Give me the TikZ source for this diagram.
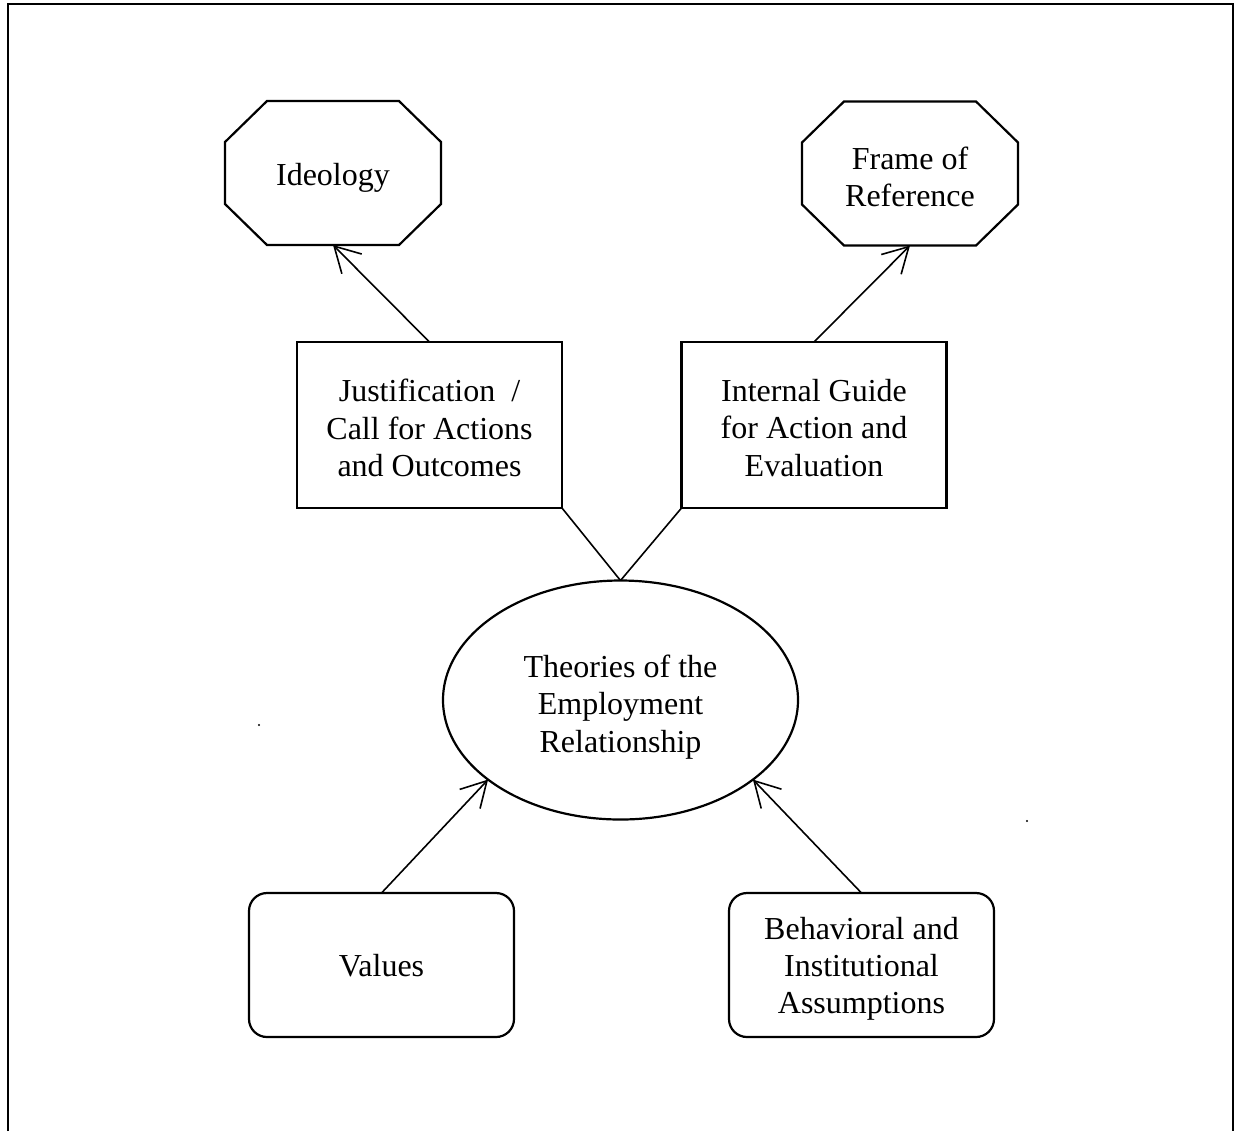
\documentclass[tikz,border=0pt]{standalone}
\usepackage{fontspec}
\setmainfont{Liberation Serif}
\usetikzlibrary{arrows.meta,shapes.geometric}
\tikzset{
  shapeline/.style={line width=1.1pt, line join=miter},
  txt/.style={font=\fontsize{16}{18.6}\selectfont, align=center, inner sep=0pt, outer sep=0pt},
  octo/.style={rectangle, draw=none, inner sep=0pt, outer sep=0pt, minimum width=108pt, minimum height=72pt},
  plainbox/.style={rectangle, draw, shapeline, inner sep=0pt, outer sep=0pt, minimum width=132.5pt, minimum height=83pt},
  roundbox/.style={rectangle, draw, shapeline, inner sep=0pt, outer sep=0pt, rounded corners=9pt, minimum width=132.5pt, minimum height=72pt},
  oval/.style={ellipse, draw, shapeline, inner sep=0pt, outer sep=0pt, minimum width=177.5pt, minimum height=119.5pt},
  conn/.style={line width=0.8pt},
  arr/.style={conn, -{Straight Barb[length=12.5pt, width=14pt, line width=0.8pt]}}
}
\newcommand\drawocto[1]{%
  \draw[shapeline] ([xshift=21pt]#1.north west) -- ([xshift=-21pt]#1.north east)
    -- ([yshift=-20.5pt]#1.north east) -- ([yshift=20.5pt]#1.south east)
    -- ([xshift=-21pt]#1.south east) -- ([xshift=21pt]#1.south west)
    -- ([yshift=20.5pt]#1.south west) -- ([yshift=-20.5pt]#1.north west) -- cycle;}
\begin{document}
\begin{tikzpicture}[x=0.5pt, y=-0.5pt]
\useasboundingbox (0,0) rectangle (1235,1131);
% outer frame (open at bottom)
\coordinate (fbl) at (8,1131);
\coordinate (ftl) at (8,4);
\coordinate (ftr) at (1233,4);
\coordinate (fbr) at (1233,1131);
\draw[line width=1.1pt] (fbl) -- (ftl) -- (ftr) -- (fbr);

% shapes
\node[octo] (ideo) at (333,173) {};
\drawocto{ideo}
\node[octo] (frame) at (910,173.5) {};
\drawocto{frame}
\node[plainbox] (just) at (429.5,425) {};
\node[plainbox] (guide) at (814,425) {};
\node[oval] (theo) at (620.5,700) {};
\node[roundbox] (values) at (381.5,965) {};
\node[roundbox] (beh) at (861.5,965) {};

% texts
\node[txt] (ideotxt) at ([yshift=-2.5pt]ideo.center) {Ideology};
\node[txt] (frametxt) at ([yshift=-1.5pt]frame.center) {Frame of\\Reference};
\node[txt] (justtxt) at ([yshift=-1.5pt]just.center) {Justification\ \ /\\Call for Actions\\and Outcomes};
\node[txt] (guidetxt) at ([yshift=-1.5pt]guide.center) {Internal Guide\\for Action and\\Evaluation};
\node[txt] (theotxt) at ([yshift=-3.5pt]theo.center) {Theories of the\\Employment\\Relationship};
\node[txt] (valuestxt) at ([yshift=-0.5pt]values.center) {Values};
\node[txt] (behtxt) at ([yshift=-2pt]beh.center) {Behavioral and\\Institutional\\Assumptions};

% connectors
\draw[arr] (just.north) -- (ideo.south);
\draw[arr] (guide.north) -- (frame.south);
\draw[conn] (just.south east) -- (theo.north);
\draw[conn] (guide.south west) -- (theo.north);
\draw[arr] (values.north) -- (theo.211);
\draw[arr] (beh.north) -- (theo.329);

% stray specks
\fill (259,725) circle (0.6pt);
\fill (1027,821) circle (0.6pt);
\end{tikzpicture}
\end{document}
